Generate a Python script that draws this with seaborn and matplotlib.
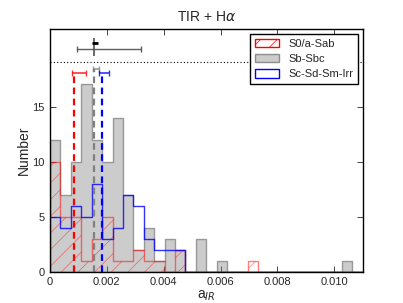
import numpy as np
import pandas as pd
import matplotlib
matplotlib.use("Agg")
import matplotlib.pyplot as plt
import seaborn as sns
from matplotlib.patches import Patch

# ---- data (counts per bin) ----
n_bins = 30
bin_range = (0, 0.011)
counts_s0 = [10, 5, 5, 1, 3, 5, 1, 1, 2, 1, 1, 0, 2, 0, 0, 0, 0, 0, 0, 1,
             0, 0, 0, 0, 0, 0, 0, 0, 0, 0]
counts_sb = [12, 7, 10, 17, 12, 10, 14, 7, 2, 4, 1, 3, 2, 0, 3, 0, 1, 0, 0, 0,
             0, 0, 0, 0, 0, 0, 0, 0, 1, 0]
counts_sc = [5, 4, 6, 5, 8, 3, 4, 7, 6, 3, 2, 2, 2, 0, 0, 0, 0, 0, 0, 0,
             0, 0, 0, 0, 0, 0, 0, 0, 0, 0]
labels = ["S0/a-Sab", "Sb-Sbc", "Sc-Sd-Sm-Irr"]

med_x = [0.00084, 0.00156, 0.00182]
med_y = [18.0, 18.45, 18.0]
med_err_lo = [0.00007, 0.00004, 0.00009]
med_err_hi = [0.00043, 0.00016, 0.00024]

all_x = 0.00156
all_y = 20.2
all_xerr = [0.00060, 0.00163]
all_yerr = [0.6, 1.0]
all2_x = 0.00159
all2_y = 20.8
all2_xerr = 0.0001

hline_y = 19

xticks = [0, 0.002, 0.004, 0.006, 0.008, 0.010]
xticklabels = ["0", "0.002", "0.004", "0.006", "0.008", "0.010"]
yticks = [0, 5, 10, 15]

edges = np.linspace(bin_range[0], bin_range[1], n_bins + 1)
centers = (edges[:-1] + edges[1:]) / 2
df = pd.DataFrame({"a": centers, "s0": counts_s0, "sb": counts_sb, "sc": counts_sc})

sns.set_style("ticks", {"xtick.direction": "in", "ytick.direction": "in"})
plt.rcParams["font.family"] = ["Liberation Sans", "DejaVu Sans"]
plt.rcParams["mathtext.fontset"] = "dejavusans"
plt.rcParams["hatch.linewidth"] = 0.5

fig = plt.figure(figsize=(4.03, 3.03), dpi=100)
ax = fig.add_axes([0.124, 0.103, 0.776, 0.8])

gray_face = (0.5, 0.5, 0.5, 0.4)
gray_edge = (0.4, 0.4, 0.4, 0.6)
red_edge = (1.0, 0.0, 0.0, 0.5)

sns.histplot(data=df, x="a", weights="sb", bins=n_bins, binrange=bin_range, element="step", fill=True,
             color="gray", facecolor=gray_face, edgecolor=gray_edge, linewidth=1.0, ax=ax)
sns.histplot(data=df, x="a", weights="s0", bins=n_bins, binrange=bin_range, element="step", fill=True,
             color="red", facecolor=(1, 1, 1, 0), edgecolor=red_edge, hatch="//", linewidth=1.0, ax=ax)
sns.histplot(data=df, x="a", weights="sc", bins=n_bins, binrange=bin_range, element="step", fill=False,
             color=(0.0, 0.0, 1.0), alpha=0.8, linewidth=1.0, ax=ax)

cols = ["red", "gray", "blue"]
for i in range(3):
    ax.vlines(med_x[i], 0, med_y[i], colors=cols[i], linestyles=(0, (3, 2)), linewidth=1.6)
    ax.errorbar(med_x[i], med_y[i], xerr=[[med_err_lo[i]], [med_err_hi[i]]],
                color=cols[i], capsize=2.5, linewidth=1.2, alpha=0.8)

ax.errorbar(all_x, all_y, xerr=[[all_xerr[0]], [all_xerr[1]]],
            color="0.3", capsize=2.5, linewidth=1.0, alpha=0.9)
ax.errorbar(all_x, all_y, yerr=[[all_yerr[0]], [all_yerr[1]]],
            color="0.3", capsize=0, linewidth=1.3, alpha=0.9)
ax.errorbar(all2_x, all2_y, xerr=all2_xerr, color="black", linewidth=2.0, capsize=0)

ax.axhline(hline_y, color="black", linestyle=(0, (1, 2)), linewidth=0.8)

ax.set_xlim(0, 0.011)
ax.set_ylim(0, 22)
ax.set_xticks(xticks)
ax.set_xticklabels(xticklabels)
ax.set_yticks(yticks)
ax.tick_params(axis="both", which="both", top=True, right=True, direction="in",
               labelsize=8, length=4, width=0.6, pad=4)
for s in ax.spines.values():
    s.set_linewidth(1.0)
    s.set_color("black")

ax.set_xlabel("a$_{IR}$", fontsize=10, labelpad=1)
ax.set_ylabel("Number", fontsize=10, labelpad=1)
ax.set_title(r"TIR + H$\alpha$", fontsize=10, pad=6)

handles = [Patch(facecolor="none", edgecolor="red", hatch="//", linewidth=1.0),
           Patch(facecolor=(0.5, 0.5, 0.5, 0.4), edgecolor=(0.4, 0.4, 0.4, 0.7), linewidth=1.0),
           Patch(facecolor="none", edgecolor="blue", linewidth=1.0)]
leg = ax.legend(handles, labels, loc="upper right", fontsize=8, frameon=True,
                fancybox=False, edgecolor="black", framealpha=1,
                handlelength=2.2, handleheight=0.8, borderpad=0.45, labelspacing=0.45,
                handletextpad=0.8, borderaxespad=0.4)
leg.get_frame().set_linewidth(1.0)

fig.savefig("out.png", dpi=100)
